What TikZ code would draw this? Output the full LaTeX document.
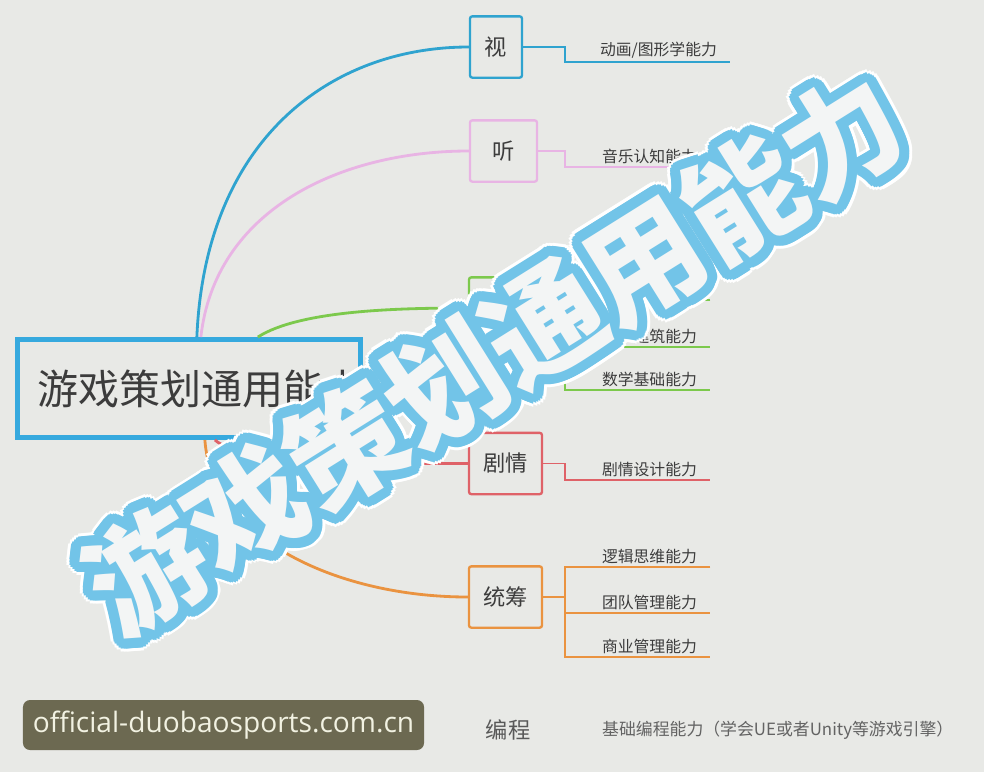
\documentclass[tikz,border=0pt]{standalone}
\usepackage{fontspec}
\setmainfont{Noto Sans CJK SC}
\newfontfamily\urlfont{Open Sans}
\usetikzlibrary{calc}

\definecolor{bgGrey}{HTML}{E8E9E6}
\definecolor{mapBlue}{HTML}{2FA3CF}
\definecolor{rootBlue}{HTML}{36A9DE}
\definecolor{mapPink}{HTML}{E8B4E4}
\definecolor{mapGreen}{HTML}{7CC94C}
\definecolor{mapRed}{HTML}{DF6268}
\definecolor{mapOrange}{HTML}{EA9340}
\definecolor{inkGrey}{HTML}{3C3C3C}
\definecolor{markBlue}{HTML}{72C4E8}
\definecolor{markFill}{HTML}{F3F5F5}
\definecolor{urlBox}{HTML}{6C6951}
\definecolor{urlText}{HTML}{F2F2E2}

\begin{document}
\begin{tikzpicture}[x=0.03cm, y=-0.03cm,
    topic/.style={draw, rounded corners=2pt, line width=2pt, minimum height=1.84cm, text=inkGrey, font=\fontsize{19}{22}\selectfont},
    subtopic/.style={anchor=south west, inner xsep=0.4cm, inner ysep=0.1cm, text width=3.55cm, align=right, text=inkGrey, font=\fontsize{13.5}{16}\selectfont},
    branch/.style={line width=2.4pt},
    twig/.style={line width=1.3pt},
    bigmark/.style={rotate=32, font=\fontsize{100}{104}\selectfont\bfseries}
]

% Background and page size
\fill[bgGrey] (0,0) rectangle (984,772);
\useasboundingbox (0,0) rectangle (984,772);

% Central topic
\node[draw=rootBlue, line width=4.2pt, minimum width=10.29cm, minimum height=2.94cm,
      inner xsep=0.6cm, text width=9.1cm, align=left, text=inkGrey,
      font=\fontsize{35}{40}\selectfont] (root) at (189,388.5) {游戏策划通用能力};

% Main topics
\node[topic, draw=mapBlue, minimum width=1.56cm] (shi) at (496,47) {视};
\node[topic, draw=mapPink, minimum width=2.01cm] (ting) at (503.5,151) {听};
\node[topic, draw=mapGreen, minimum width=2.19cm] (kongjian) at (505.5,308) {};
\node[topic, draw=mapRed, minimum width=2.19cm] (juqing) at (505.5,463.5) {剧情};
\node[topic, draw=mapOrange, minimum width=2.19cm] (tongchou) at (505.5,597) {统筹};
\node[text=inkGrey!85, font=\fontsize{19}{22}\selectfont] (biancheng) at (508,730) {编程};

% Sub topics
\node[subtopic, text width=4.15cm] (shiA) at (565,62) {动画/图形学能力};
\node[subtopic] (tingA) at (565,167) {音乐认知能力};
\node[subtopic] (kongA) at (565,300) {};
\node[subtopic] (kongB) at (565,347) {建筑能力};
\node[subtopic] (kongC) at (565,390) {数学基础能力};
\node[subtopic] (juqingA) at (565,480) {剧情设计能力};
\node[subtopic] (tongA) at (565,567) {逻辑思维能力};
\node[subtopic] (tongB) at (565,613) {团队管理能力};
\node[subtopic] (tongC) at (565,657) {商业管理能力};
\node[anchor=west, text=inkGrey!80, font=\fontsize{14.4}{17}\selectfont] (bianchengA) at (598,730) {基础编程能力（学会UE或者Unity等游戏引擎）};

% Curved branches from the central topic
\draw[branch, mapBlue] ($(root.north west)+(182,0)$) .. controls (205,140) and (330,47) .. (shi.west);
\draw[branch, mapPink] ($(root.north west)+(186,0)$) .. controls (215,210) and (340,151) .. (ting.west);
\draw[branch, mapGreen] ($(root.north west)+(243,0)$) .. controls (300,310) and (400,308) .. (kongjian.west);
\draw[branch, mapRed] ($(root.south west)+(200,0)$) .. controls (240,463) and (380,463.5) .. (juqing.west);
\draw[branch, mapOrange] ($(root.south west)+(190,0)$) .. controls (212,540) and (340,597) .. (tongchou.west);

% Elbow connectors to the sub topics
\draw[twig, mapBlue] (shi.east) -| (shiA.south west) -- (shiA.south east);
\draw[twig, mapPink] (ting.east) -| (tingA.south west) -- (tingA.south east);
\draw[twig, mapGreen] (kongA.south east) -- (kongA.south west) -- (kongC.south west) -- (kongC.south east);
\draw[twig, mapGreen] (kongB.south west) -- (kongB.south east);
\draw[twig, mapGreen] (kongjian.east) -- (kongjian.east -| kongA.south west);
\draw[twig, mapRed] (juqing.east) -| (juqingA.south west) -- (juqingA.south east);
\draw[twig, mapOrange] (tongA.south east) -- (tongA.south west) -- (tongC.south west) -- (tongC.south east);
\draw[twig, mapOrange] (tongB.south west) -- (tongB.south east);
\draw[twig, mapOrange] (tongchou.east) -- (tongchou.east -| tongA.south west);

% Big outlined title across the map
\coordinate (markc) at (494,353);
\foreach \a in {0,15,...,345}
  \node[bigmark, text=white] at ($(markc)+(\a:13)$) {游戏策划通用能力};
\foreach \a in {0,15,...,345}
  \node[bigmark, text=markBlue] at ($(markc)+(\a:10)$) {游戏策划通用能力};
\foreach \a in {0,45,...,315}
  \node[bigmark, text=markBlue] at ($(markc)+(\a:5)$) {游戏策划通用能力};
\node[bigmark, text=markFill] (mark) at (markc) {游戏策划通用能力};

% Site tag
\node[fill=urlBox, rounded corners=6pt, minimum width=12.03cm, minimum height=1.5cm,
      text=urlText, font=\urlfont\fontsize{24}{27}\selectfont] (site) at (223.5,725) {official-duobaosports.com.cn};

\end{tikzpicture}
\end{document}
